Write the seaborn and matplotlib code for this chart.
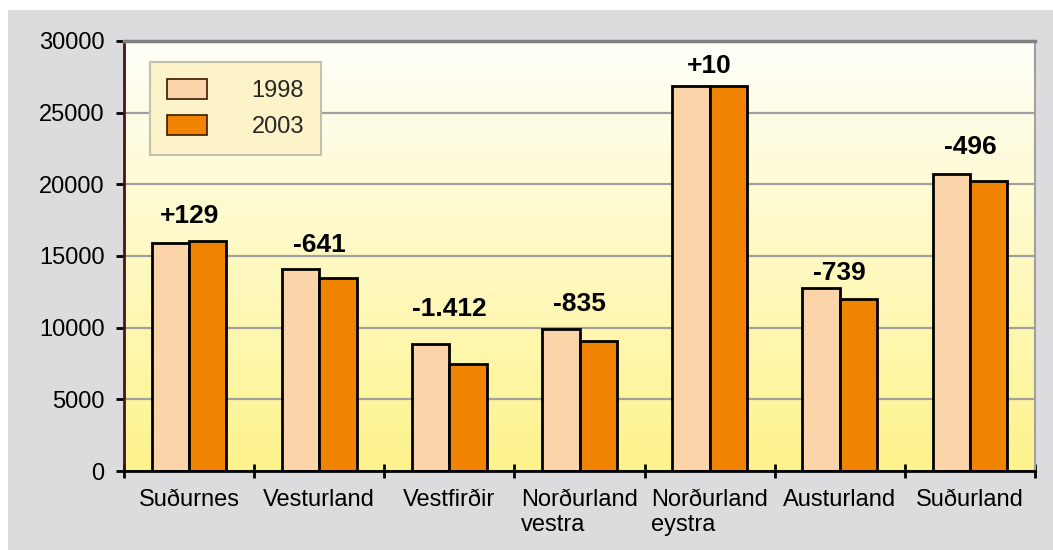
import numpy as np
import pandas as pd
import matplotlib
matplotlib.use("Agg")
import matplotlib.pyplot as plt
from matplotlib.patches import Rectangle
import seaborn as sns

# Population by region
regions = ["Suðurnes", "Vesturland", "Vestfirðir", "Norðurland\nvestra",
           "Norðurland\neystra", "Austurland", "Suðurland"]
pop_1998 = [15920, 14100, 8860, 9920, 26870, 12750, 20700]
pop_2003 = [16049, 13459, 7448, 9085, 26880, 12011, 20204]
years = ["1998", "2003"]
y_ticks = [0, 5000, 10000, 15000, 20000, 25000, 30000]

# Gap (points) between the taller bar and its change label
label_gap = [9.6, 8.4, 16.5, 9.5, 5.8, 2.6, 11.2]

colors = {"1998": "#fcd4a9", "2003": "#f08400"}

df = pd.DataFrame({
    "region": regions * 2,
    "year": [years[0]] * len(regions) + [years[1]] * len(regions),
    "pop": pop_1998 + pop_2003,
})

sns.set_theme(style="white")
plt.rcParams["font.family"] = ["Liberation Sans", "DejaVu Sans"]

W, H = 1053, 550
fig = plt.figure(figsize=(W / 100, H / 100), dpi=100, facecolor="white")

# Grey chart-area panel behind the axes
fig.add_artist(Rectangle((8 / W, 0), 1 - 8 / W, (H - 10) / H,
                         transform=fig.transFigure, facecolor="#dcdcde",
                         edgecolor="none", zorder=-10))

ax = fig.add_axes([124 / W, (H - 471) / H, (1035 - 124) / W, (471 - 41) / H])
ax.set_zorder(1)

# Plot-area gradient: near white at top to soft yellow at bottom
top = np.array([255, 255, 250]) / 255
bot = np.array([254, 243, 140]) / 255
t = np.linspace(0, 1, 256)[:, None]
grad = (top[None, :] * (1 - t) + bot[None, :] * t)[:, None, :]
ax.imshow(grad, extent=(0, 1, 0, 1), transform=ax.transAxes,
          aspect="auto", zorder=0, interpolation="bilinear")

sns.barplot(data=df, x="region", y="pop", hue="year", palette=colors,
            width=0.575, edgecolor="black", linewidth=2, saturation=1,
            ax=ax, zorder=2)

ax.set_xlim(-0.5, len(regions) - 0.5)
ax.set_ylim(0, 30000)
ax.set_xlabel("")
ax.set_ylabel("")

# Horizontal gridlines
ax.set_yticks(y_ticks)
ax.set_yticklabels([str(v) for v in y_ticks], fontsize=17, color="black")
ax.yaxis.grid(True, color="#a0a0a0", linewidth=1.6, zorder=0.5)
ax.xaxis.grid(False)
ax.set_axisbelow(True)

# Category boundaries as ticks, names centred between them
ax.set_xticks(np.arange(-0.5, len(regions), 1.0))
ax.set_xticklabels([])
ax.set_xticks(np.arange(len(regions)), minor=True)
ax.set_xticklabels(regions, minor=True, fontsize=17, color="black")
for lbl in ax.get_xticklabels(minor=True):
    lbl.set_multialignment("left")
ax.tick_params(axis="x", which="major", direction="inout", length=10,
               width=2, color="black", bottom=True)
ax.tick_params(axis="x", which="minor", length=0, pad=13, bottom=True)
ax.tick_params(axis="y", direction="out", length=6, width=2,
               color="black", pad=8, left=True)

for side in ["top", "right"]:
    ax.spines[side].set_visible(True)
ax.spines["top"].set_color("#808080")
ax.spines["top"].set_linewidth(2.5)
ax.spines["right"].set_color("#a0a0a0")
ax.spines["right"].set_linewidth(1.5)
ax.spines["left"].set_color("#4a1414")
ax.spines["left"].set_linewidth(2)
ax.spines["bottom"].set_color("black")
ax.spines["bottom"].set_linewidth(2)


def change_label(a, b):
    d = b - a
    s = f"{abs(d):,}".replace(",", ".")
    return ("+" if d >= 0 else "-") + s


for i, (a, b) in enumerate(zip(pop_1998, pop_2003)):
    ax.annotate(change_label(a, b), xy=(i, max(a, b)),
                xytext=(0, label_gap[i]), textcoords="offset points",
                ha="center", va="bottom", fontsize=19, fontweight="bold",
                color="black", zorder=5)

leg = ax.legend(loc="upper left", bbox_to_anchor=(26 / 911, 1 - 21 / 430),
                fontsize=17, frameon=True, fancybox=False, shadow=False,
                handlelength=1.7, handleheight=0.95, handletextpad=1.9,
                labelspacing=0.55, borderpad=0.7, borderaxespad=0)
leg.get_frame().set_facecolor("#fdf3c8")
leg.get_frame().set_edgecolor("#c4c0b0")
leg.get_frame().set_linewidth(1.5)
leg.get_frame().set_alpha(1)
for h in leg.legend_handles:
    h.set_edgecolor("#3a1a00")
    h.set_linewidth(1.2)

fig.savefig("out.png", dpi=100, facecolor="white")
